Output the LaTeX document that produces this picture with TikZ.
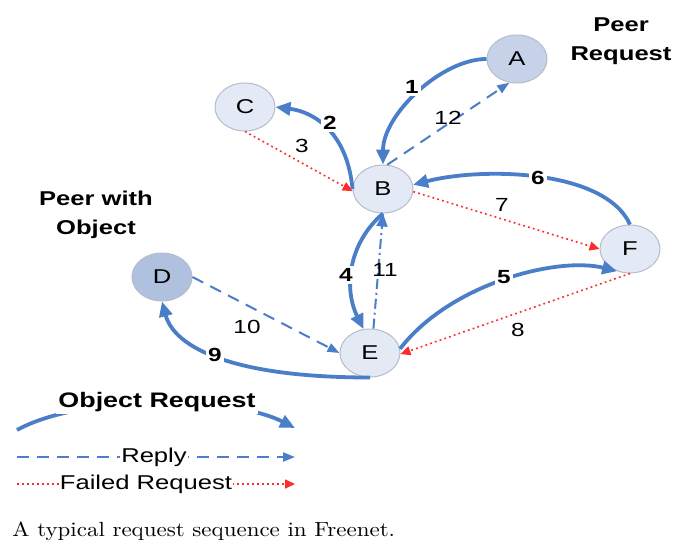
\documentclass[tikz,border=0pt]{standalone}
\usepackage{fontspec}
\usepackage{graphicx}
\setsansfont{Liberation Sans}[FakeStretch=1.28]
\usetikzlibrary{arrows.meta,shapes.geometric}
\definecolor{linkblue}{HTML}{4A7EC8}
\definecolor{peerfill}{HTML}{E3EAF6}
\definecolor{peerdark}{HTML}{C5D2E8}
\definecolor{holderfill}{HTML}{AFC1DE}
\definecolor{peerrim}{HTML}{B5BDCB}
\definecolor{failred}{HTML}{FF2A2A}
\begin{document}
\begin{tikzpicture}[x=0.5pt,y=-0.5pt,
  peer/.style={ellipse, draw=peerrim, line width=0.5pt, fill=peerfill,
    minimum width=30pt, minimum height=24pt, inner sep=0pt,
    font=\sffamily\fontsize{10}{12}\selectfont},
  request/.style={draw=linkblue, line width=1.9pt,
    -{Triangle[length=7.5pt,width=6.5pt]}},
  reply/.style={draw=linkblue, line width=1pt, dash pattern=on 6pt off 4pt,
    -{Triangle[length=6pt,width=4.5pt]}},
  replymix/.style={draw=linkblue, line width=1pt,
    dash pattern=on 5pt off 2pt on 1pt off 2pt,
    -{Triangle[length=6.5pt,width=5.5pt]}},
  failed/.style={draw=failred, line width=0.8pt, dash pattern=on 0.9pt off 1.6pt,
    -{Triangle[length=5pt,width=4.5pt]}},
  steplabel/.style={font=\sffamily\bfseries\fontsize{9.5}{11}\selectfont,
    fill=white, inner sep=1pt},
  numlabel/.style={font=\sffamily\fontsize{9.5}{11}\selectfont, inner sep=1pt},
  roletitle/.style={font=\sffamily\bfseries\fontsize{10}{12}\selectfont,
    align=center, inner sep=0pt},
  legendtext/.style={font=\sffamily\fontsize{10}{12}\selectfont,
    fill=white, inner sep=0.5pt},
]
\fill[white] (0,0) rectangle (684,551);
\useasboundingbox (0,0) rectangle (684,551);

% peers
\node[peer, fill=peerdark] (A) at (517,59) {A};
\node[peer] (B) at (383,189) {B};
\node[peer] (C) at (245,107) {C};
\node[peer, fill=holderfill] (D) at (162,277) {D};
\node[peer] (E) at (370,353) {E};
\node[peer] (F) at (630,249) {F};

% role titles
\node[roletitle] (peerreq) at (621,41) {Peer\\[2.5pt]Request};
\node[roletitle] (peerobj) at (96,215) {Peer with\\[2.5pt]Object};

% object requests
\draw[request] (A.west) .. controls +(-45,0) and +(0,-50) .. (B.north);
\draw[request] (B.west) .. controls +(-5,-55) and +(40,5) .. (C.east);
\draw[request] (F.north) .. controls +(-25,-55) and +(70,-18) .. (B.8);
\draw[request] (B.south) .. controls +(-35,30) and +(-20,-40) .. (E.105);
\draw[request] (E.8) .. controls +(50,-65) and +(-60,-15) .. (F.240);
\draw[request] (E.south) .. controls +(-140,0) and +(12,45) .. (D.south);

% failed requests
\draw[failed] (C.south) -- (B.184);
\draw[failed] (B.-5) -- (F.west);
\draw[failed] (F.south) -- (E.-2);

% replies
\draw[reply] (D.east) -- (E.west);
\draw[replymix] (E.82) -- (B.south);
\draw[reply] (B.80) -- (A.252);

% step numbers
\node[steplabel] (s1) at (412,87) {1};
\node[steplabel] (s2) at (330,123) {2};
\node[numlabel] (s3) at (302,146) {3};
\node[steplabel] (s4) at (346,275) {4};
\node[steplabel] (s5) at (504,277) {5};
\node[steplabel] (s6) at (538,178) {6};
\node[numlabel] (s7) at (502,205) {7};
\node[numlabel] (s8) at (518,330) {8};
\node[steplabel] (s9) at (215,355) {9};
\node[numlabel] (s10) at (247,327) {10};
\node[numlabel] (s11) at (385,270) {11};
\node[numlabel] (s12) at (448,118) {12};

% legend
\coordinate (objL) at (17,430);
\coordinate (objR) at (295,428);
\draw[request] (objL) .. controls (80,395) and (230,395) .. (objR);
\node[legendtext, font=\sffamily\bfseries\fontsize{10.5}{12}\selectfont,
  inner sep=1pt] (objtxt) at (157,402) {Object Request};
\coordinate (repL) at (17,457);
\coordinate (repR) at (295,457);
\draw[reply] (repL) -- (repR);
\node[legendtext] (reptxt) at (154,457) {Reply};
\coordinate (failL) at (17,484);
\coordinate (failR) at (295,484);
\draw[failed] (failL) -- (failR);
\node[legendtext] (failtxt) at (146,484) {Failed Request};

% caption
\node[anchor=base west, inner sep=0pt] (caption) at (12,536)
  {\scalebox{1.12}[1]{\fontsize{10.25}{12}\selectfont A typical request sequence in Freenet.}};
\end{tikzpicture}
\end{document}
